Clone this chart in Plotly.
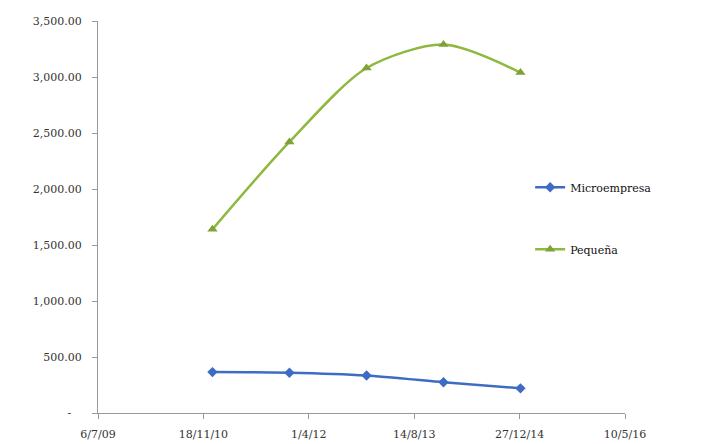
import plotly.graph_objects as go

# Year-end observations
dates = ["2010-12-31", "2011-12-31", "2012-12-31", "2013-12-31", "2014-12-31"]
microempresa = [365, 360, 335, 275, 220]
pequena = [1640, 2420, 3080, 3290, 3040]

# Axis ticks (dates every 500 days, day/month/year labels)
x_tickvals = ["2009-07-06", "2010-11-18", "2012-04-01", "2013-08-14", "2014-12-27", "2016-05-10"]
x_ticktext = ["6/7/09", "18/11/10", "1/4/12", "14/8/13", "27/12/14", "10/5/16"]
y_tickvals = [0, 500, 1000, 1500, 2000, 2500, 3000, 3500]
y_ticktext = ["-\u00a0\u00a0\u00a0", "500.00", "1,000.00", "1,500.00", "2,000.00",
              "2,500.00", "3,000.00", "3,500.00"]

blue = "#3E6CC4"
green = "#8FB83E"
serif = "DejaVu Serif"

fig = go.Figure()
fig.add_trace(go.Scatter(
    x=dates, y=microempresa, name="Microempresa", legendgroup="a",
    mode="lines+markers", line=dict(color=blue, width=2.5, shape="spline", smoothing=0.6),
    marker=dict(symbol="diamond", size=8, color=blue, line=dict(width=0)),
))
fig.add_trace(go.Scatter(
    x=dates, y=pequena, name="Pequeña", legendgroup="b",
    mode="lines+markers", line=dict(color=green, width=2.5, shape="spline", smoothing=0.8),
    marker=dict(symbol="triangle-up", size=9, color="#7FA236", line=dict(width=0)),
))

fig.update_layout(
    width=714, height=444,
    margin=dict(l=98, r=89, t=21, b=31),
    paper_bgcolor="white", plot_bgcolor="white",
    font=dict(family=serif, size=11, color="#333"),
    showlegend=True,
    legend=dict(
        x=0.82, y=0.613, xanchor="left", yanchor="top",
        bgcolor="rgba(0,0,0,0)", tracegroupgap=43,
        font=dict(family=serif, size=11, color="#111"),
        itemwidth=30,
    ),
    xaxis=dict(
        type="date", range=["2009-07-06", "2016-05-10"],
        tickmode="array", tickvals=x_tickvals, ticktext=x_ticktext,
        tickfont=dict(family=serif, size=11, color="#333"),
        showgrid=False, zeroline=False, automargin=False,
        showline=True, linecolor="#999", linewidth=1,
        ticks="outside", ticklen=5, tickcolor="#999",
        ticklabelstandoff=6,
    ),
    yaxis=dict(
        range=[0, 3500],
        tickmode="array", tickvals=y_tickvals, ticktext=y_ticktext,
        tickfont=dict(family=serif, size=11, color="#333"),
        showgrid=False, zeroline=False, automargin=False,
        showline=True, linecolor="#999", linewidth=1,
        ticks="outside", ticklen=5, tickcolor="#999",
        ticklabelstandoff=8,
    ),
)

fig.write_html("out.html")
